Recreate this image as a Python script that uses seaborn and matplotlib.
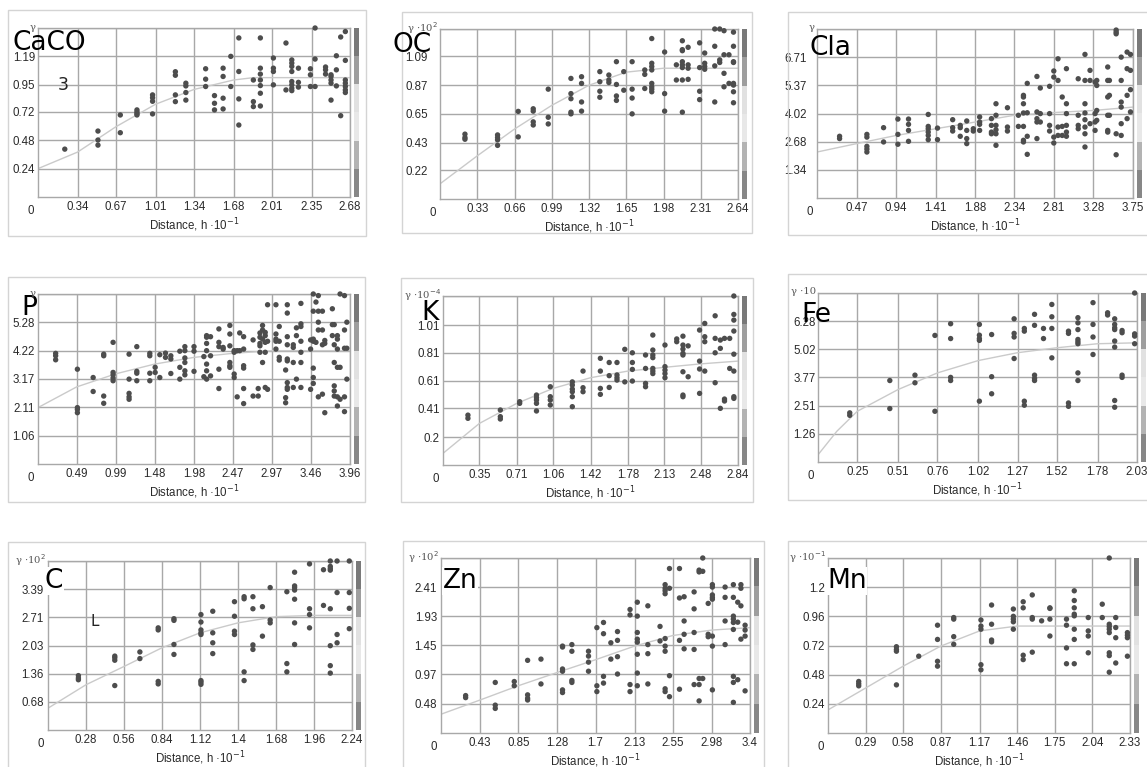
import numpy as np
import pandas as pd
import matplotlib
matplotlib.use("Agg")
import matplotlib.pyplot as plt
from matplotlib.patches import Rectangle
import seaborn as sns

sns.set_theme(style="white")
plt.rcParams['font.family'] = ['Liberation Sans', 'DejaVu Sans']

W, H = 1147, 767

# ---------------- data ----------------
names = ["CaCO", "OC", "Cla", "P", "K", "Fe", "C", "Zn", "Mn"]
ylabels = ["γ", "γ ·10$^{2}$", "γ", "γ", "γ ·10$^{-4}$", "γ ·10", "γ ·10$^{2}$", "γ ·10$^{2}$", "γ ·10$^{-1}$"]

caco_xt = ["0.34", "0.67", "1.01", "1.34", "1.68", "2.01", "2.35", "2.68"]
oc_xt = ["0.33", "0.66", "0.99", "1.32", "1.65", "1.98", "2.31", "2.64"]
cla_xt = ["0.47", "0.94", "1.41", "1.88", "2.34", "2.81", "3.28", "3.75"]
p_xt = ["0.49", "0.99", "1.48", "1.98", "2.47", "2.97", "3.46", "3.96"]
k_xt = ["0.35", "0.71", "1.06", "1.42", "1.78", "2.13", "2.48", "2.84"]
fe_xt = ["0.25", "0.51", "0.76", "1.02", "1.27", "1.52", "1.78", "2.03"]
c_xt = ["0.28", "0.56", "0.84", "1.12", "1.4", "1.68", "1.96", "2.24"]
zn_xt = ["0.43", "0.85", "1.28", "1.7", "2.13", "2.55", "2.98", "3.4"]
mn_xt = ["0.29", "0.58", "0.87", "1.17", "1.46", "1.75", "2.04", "2.33"]

caco_yt = ["0.24", "0.48", "0.72", "0.95", "1.19"]
oc_yt = ["0.22", "0.43", "0.65", "0.87", "1.09"]
cla_yt = ["1.34", "2.68", "4.02", "5.37", "6.71"]
p_yt = ["1.06", "2.11", "3.17", "4.22", "5.28"]
k_yt = ["0.2", "0.41", "0.61", "0.81", "1.01"]
fe_yt = ["1.26", "2.51", "3.77", "5.02", "6.28"]
c_yt = ["0.68", "1.36", "2.03", "2.71", "3.39"]
zn_yt = ["0.48", "0.97", "1.45", "1.93", "2.41"]
mn_yt = ["0.24", "0.48", "0.72", "0.96", "1.2"]

y_tops = [1.43, 1.30, 8.05, 6.33, 1.22, 7.53, 4.07, 2.89, 1.44]

caco_cols = [0.23, 0.515, 0.707, 0.85, 0.984, 1.18, 1.27, 1.44, 1.516, 1.59, 1.656, 1.725, 1.85, 1.91, 2.022, 2.13, 2.18, 2.237, 2.34, 2.38, 2.47, 2.517, 2.563, 2.6, 2.64]
caco_vals = [[0.405], [0.558, 0.482, 0.439], [0.694, 0.544], [0.737, 0.72, 0.705, 0.694], [0.864, 0.84, 0.81, 0.703], [1.06, 1.03, 0.864, 0.807], [0.963, 0.94, 0.884, 0.82], [1.085, 0.997, 0.935], [0.858, 0.793, 0.737], [1.09, 1.02, 0.836, 0.745], [1.19, 0.935], [1.346, 1.062, 0.83, 0.609], [0.99, 0.807, 0.765], [1.346, 1.09, 1.04, 0.99, 0.943, 0.878, 0.77], [1.176, 1.09, 1.062, 0.949], [1.303, 0.906], [1.16, 1.133, 1.105, 1.062, 0.977, 0.949, 0.92, 0.9], [1.09, 0.97, 0.93], [1.085, 1.034, 0.935], [1.43, 1.167, 0.935], [1.1, 1.076, 1.04], [1.034, 1.02, 0.99, 0.963, 0.82], [1.195, 1.076, 0.94], [1.354, 0.688], [1.4, 1.156, 0.99, 0.963, 0.935, 0.906, 0.884]]
caco_curve_x = [0, 0.34, 0.67, 1.01, 1.34, 1.68, 1.85, 2.68]
caco_curve_y = [0.24, 0.38, 0.595, 0.785, 0.91, 0.99, 1.01, 1.01]

oc_cols = [0.221, 0.51, 0.693, 0.826, 0.959, 1.16, 1.254, 1.416, 1.496, 1.563, 1.628, 1.702, 1.814, 1.876, 1.99, 2.094, 2.147, 2.198, 2.3, 2.345, 2.434, 2.478, 2.516, 2.56, 2.6]
oc_vals = [[0.496, 0.47, 0.457], [0.49, 0.47, 0.452, 0.41], [0.67, 0.475], [0.69, 0.672, 0.59, 0.566], [0.84, 0.625, 0.574], [0.922, 0.806, 0.767, 0.664, 0.651], [0.935, 0.884, 0.742, 0.672], [0.974, 0.897, 0.824, 0.778], [0.948, 0.91, 0.891], [1.05, 0.876, 0.788, 0.754], [0.974, 0.832], [1.05, 0.84, 0.772, 0.651], [0.987, 0.953, 0.845], [1.227, 1.038, 1.013, 0.987, 0.884, 0.858, 0.84, 0.82], [1.124, 0.806, 0.672], [1.026, 0.91], [1.21, 1.142, 1.134, 1.05, 1.026, 1.005, 0.91, 0.664], [1.16, 1.026, 1.0, 0.915], [1.194, 1.005, 0.824, 0.76], [1.116, 1.038, 1.013, 0.992], [1.30, 1.168, 1.018, 0.742], [1.30, 1.064, 1.044], [1.287, 1.103, 0.961, 0.858], [1.103, 0.884], [1.276, 1.168, 1.05, 1.044, 0.884, 0.871, 0.82, 0.736]]
oc_curve_x = [0, 0.33, 0.66, 0.99, 1.32, 1.65, 1.98, 2.64]
oc_curve_y = [0.116, 0.33, 0.535, 0.716, 0.87, 0.97, 1.0, 1.0]

cla_cols = [0.268, 0.592, 0.79, 0.96, 1.086, 1.32, 1.43, 1.61, 1.70, 1.777, 1.855, 1.93, 2.07, 2.124, 2.26, 2.39, 2.45, 2.495, 2.61, 2.65, 2.76, 2.81, 2.86, 2.91, 2.96, 3.10, 3.18, 3.24, 3.30, 3.32, 3.45, 3.47, 3.55, 3.61, 3.68, 3.72]
cla_vals = [[2.94, 2.83], [3.03, 2.9, 2.46, 2.33, 2.19], [3.35, 2.67], [3.76, 3.03, 2.56], [3.76, 3.51, 3.22, 2.70], [3.98, 3.41, 3.3, 3.14, 2.98, 2.78], [3.33, 2.78], [3.73, 3.35, 3.19], [3.46, 3.35, 2.94], [3.67, 3.22, 2.83, 2.59], [3.3, 3.19], [3.86, 3.62, 3.51, 3.22], [3.78, 3.46, 3.14, 3.06], [4.49, 3.94, 3.46, 3.25, 3.06, 2.51], [4.3, 3.38, 3.19], [3.94, 3.41], [4.89, 4.81, 4.49, 4.05, 3.41, 2.75, 2.67], [5.46, 4.06, 2.94, 2.08], [5.79, 4.1, 3.78, 3.62, 2.83], [5.24, 4.02, 3.62], [5.32, 4.02, 3.46, 3.19], [6.05, 5.76, 2.9, 2.62], [6.63, 5.6, 3.38, 2.98], [4.81, 3.41, 2.98], [6.16, 4.49, 4.02, 3.46, 3.14, 2.94], [5.68, 3.94, 3.46, 3.3], [6.84, 5.6, 4.49, 4.05, 3.73, 3.38, 3.06, 2.43], [6.08, 5.6, 3.54], [5.52, 4.02, 3.62, 3.22], [5.6, 5.36, 4.17, 3.7], [6.24, 5.6, 4.81, 3.94, 3.22, 3.14], [5.6, 4.89, 3.94], [8.0, 7.9, 7.82, 3.06, 2.06], [6.71, 5.6, 4.57, 4.33, 3.54, 2.98], [6.95, 6.16, 4.89, 3.78], [6.84, 6.08, 5.16, 4.1]]
cla_curve_x = [0, 0.47, 0.94, 1.41, 1.88, 2.34, 2.81, 3.28, 3.75]
cla_curve_y = [2.19, 2.59, 2.98, 3.3, 3.62, 3.94, 4.07, 4.17, 4.33]

p_cols = [0.224, 0.5, 0.7, 0.834, 0.953, 1.156, 1.254, 1.419, 1.487, 1.546, 1.618, 1.686, 1.8, 1.864, 1.98, 2.105, 2.14, 2.19, 2.296, 2.35, 2.435, 2.49, 2.528, 2.56, 2.61, 2.73, 2.795, 2.817, 2.85, 2.884, 2.914, 3.02, 3.062, 3.143, 3.164, 3.24, 3.28, 3.337, 3.46, 3.494, 3.528, 3.558, 3.61, 3.64, 3.736, 3.76, 3.8, 3.834, 3.89, 3.92]
p_vals = [[4.12, 4.03, 3.88], [3.53, 2.1, 2.03, 1.91], [3.22, 2.7], [4.09, 4.03, 2.53, 2.26], [4.53, 3.41, 3.32, 3.2, 3.1], [4.09, 3.16, 2.63, 2.5, 2.41], [4.37, 3.45, 3.38, 3.1], [4.12, 4.03, 3.38, 3.1], [3.6, 3.41], [4.07, 3.22], [4.13, 3.97], [4.03, 3.91, 3.37], [4.2, 3.6, 3.16], [4.37, 4.22, 3.95, 3.78, 3.47, 3.32], [4.37, 4.2, 3.45], [4.0, 3.25], [4.78, 4.72, 4.49, 4.22, 3.72, 3.47, 3.16], [4.74, 4.03, 3.28], [5.03, 4.53, 4.37, 3.53, 2.81], [4.34, 4.28], [5.16, 4.84, 4.4, 3.78, 3.66, 3.6], [4.22, 4.16, 3.35, 3.22], [4.22, 2.5], [4.88, 4.22], [4.74, 4.28, 3.66, 3.57, 2.81, 2.25], [4.62, 2.53], [2.81, 2.53], [4.88, 4.72, 4.49, 4.4, 4.16], [5.16, 4.99, 4.65, 3.78], [4.9, 4.78, 4.53, 4.16, 2.85], [5.93, 4.57, 2.78], [5.93, 4.84, 4.65, 4.57, 4.28], [5.12, 4.57, 3.97, 3.87], [3.5, 2.47, 2.28], [5.93, 5.62, 4.74, 4.44, 3.91, 3.84, 3.03, 2.85, 2.78], [4.44, 4.34, 3.78, 2.85], [5.07, 4.78, 3.16], [5.98, 5.22, 5.12, 4.57, 4.16, 3.78, 2.85], [4.62, 4.28, 2.78], [6.33, 5.69, 4.65, 4.57, 3.57, 3.22, 3.0], [6.03, 4.53], [6.27, 5.69, 5.28, 4.99, 2.5], [5.69, 4.99, 4.44, 2.6], [4.6, 4.49, 1.91], [5.78, 5.19, 4.78], [5.19, 4.44, 3.78, 2.91, 2.72, 2.53], [4.78, 4.65, 4.28, 3.6, 2.5, 2.16], [6.33, 3.6, 2.41], [6.27, 4.99, 4.31, 2.5, 1.95], [5.28, 4.31, 3.16]]
p_curve_x = [0, 0.49, 0.99, 1.48, 1.98, 2.47, 2.97, 3.96]
p_curve_y = [2.1, 2.87, 3.36, 3.72, 3.97, 4.12, 4.22, 4.22]

k_cols = [0.24, 0.552, 0.738, 0.9, 1.033, 1.245, 1.348, 1.515, 1.6, 1.675, 1.75, 1.823, 1.95, 2.02, 2.137, 2.25, 2.31, 2.36, 2.47, 2.52, 2.62, 2.67, 2.71, 2.76, 2.8]
k_vals = [[0.36, 0.337], [0.397, 0.349, 0.332], [0.457, 0.445], [0.505, 0.486, 0.469, 0.445, 0.39], [0.565, 0.493, 0.469, 0.433], [0.6, 0.577, 0.548, 0.529, 0.493, 0.421], [0.678, 0.558, 0.529], [0.77, 0.678, 0.553, 0.51], [0.74, 0.645, 0.56], [0.74, 0.65, 0.63, 0.613], [0.835, 0.6], [0.81, 0.74, 0.69, 0.606], [0.794, 0.697, 0.589, 0.565], [0.938, 0.83, 0.794, 0.775, 0.697, 0.678, 0.66], [0.866, 0.71, 0.685, 0.66, 0.63], [0.91, 0.89], [0.93, 0.866, 0.837, 0.806, 0.794, 0.673, 0.505, 0.493], [0.86, 0.637], [0.974, 0.75, 0.693, 0.517], [1.022, 0.926, 0.89, 0.678], [1.077, 0.914, 0.81, 0.594], [0.902, 0.842, 0.409], [0.914, 0.476, 0.462], [0.914, 0.697], [1.22, 1.087, 1.046, 0.967, 0.8, 0.678, 0.493, 0.481]]
k_curve_x = [0, 0.35, 0.71, 1.06, 1.42, 1.78, 2.13, 2.48, 2.84]
k_curve_y = [0.084, 0.3, 0.445, 0.553, 0.63, 0.678, 0.705, 0.73, 0.75]

fe_cols = [0.202, 0.457, 0.617, 0.744, 0.844, 1.027, 1.105, 1.248, 1.313, 1.378, 1.435, 1.488, 1.594, 1.654, 1.75, 1.843, 1.888, 1.935, 2.015]
fe_vals = [[2.19, 2.08], [3.63, 2.38], [3.87, 3.53], [5.64, 2.26], [6.16, 5.5, 3.77, 3.63], [6.13, 5.65, 5.5, 5.42, 2.71], [5.68, 3.8, 3.04], [6.38, 5.73, 5.57, 4.61], [5.95, 5.83, 2.71, 2.53], [6.58, 6.09, 3.87, 3.72, 3.63], [5.95, 5.5], [7.02, 6.47, 5.95, 4.64], [5.83, 5.73, 2.63, 2.48], [6.43, 6.2, 5.9, 5.46, 5.36, 5.27, 3.97, 3.63], [7.1, 6.13, 5.57, 4.79], [6.65, 6.55], [6.38, 6.13, 5.98, 5.9, 5.39, 5.12, 2.74, 2.44], [5.86, 5.76, 3.87, 3.77], [7.53, 5.71, 5.61, 5.27]]
fe_curve_x = [0, 0.12, 0.25, 0.51, 0.76, 1.02, 1.27, 1.52, 1.78, 2.03]
fe_curve_y = [0.32, 1.37, 2.26, 3.23, 3.97, 4.52, 4.87, 5.09, 5.27, 5.31]

c_cols = [0.224, 0.492, 0.677, 0.812, 0.928, 1.127, 1.214, 1.374, 1.445, 1.51, 1.58, 1.637, 1.76, 1.817, 1.927, 2.03, 2.08, 2.13, 2.22]
c_vals = [[1.31, 1.25, 1.21], [1.78, 1.74, 1.68, 1.07], [1.88, 1.72], [2.46, 2.41, 1.17, 1.11], [2.68, 2.64, 2.06, 1.82], [2.78, 2.6, 2.41, 2.34, 2.3, 1.19, 1.15, 1.1], [2.86, 2.34, 2.1, 1.84], [3.09, 2.74, 2.38, 2.3], [3.21, 3.16, 1.4, 1.19], [3.21, 2.92, 2.05, 1.94], [2.97, 2.26], [3.43, 2.65, 2.58], [3.33, 1.6, 1.4], [3.8, 3.47, 3.43, 3.37, 3.15, 2.58, 2.06], [4.0, 2.92, 2.78, 2.46], [3.86, 3.0], [4.07, 3.94, 3.89, 3.85, 2.92, 2.03, 1.55, 1.37], [4.07, 3.31, 2.3, 2.1], [4.07, 3.31, 2.93, 2.44]]
c_curve_x = [0, 0.28, 0.56, 0.84, 1.12, 1.4, 1.68, 1.96, 2.24]
c_curve_y = [0.525, 1.09, 1.53, 1.98, 2.34, 2.58, 2.73, 2.76, 2.76]

zn_cols = [0.271, 0.597, 0.806, 0.953, 1.1, 1.337, 1.44, 1.623, 1.715, 1.788, 1.869, 1.942, 2.08, 2.16, 2.276, 2.41, 2.466, 2.514, 2.624, 2.675, 2.785, 2.84, 2.88, 2.94, 2.986, 3.126, 3.217, 3.265, 3.3, 3.346]
zn_vals = [[0.618, 0.584], [0.835, 0.46, 0.406], [0.85, 0.78], [1.2, 0.63, 0.573, 0.545], [1.22, 0.81], [1.435, 1.42, 1.057, 1.02, 0.712, 0.668], [1.46, 1.35, 0.868, 0.835], [1.35, 1.27, 1.17, 1.02], [1.74, 0.78, 0.684], [1.825, 1.64, 0.935, 0.824], [1.49, 1.22], [1.675, 1.53, 1.26, 0.974], [2.04, 1.95, 0.8, 0.684], [2.16, 1.93, 1.66, 1.55, 1.5, 1.3, 0.99, 0.78], [2.1, 1.46, 1.31, 0.81], [1.76, 1.52], [2.45, 2.39, 2.35, 2.3, 1.56, 1.435, 1.35, 0.73, 0.684], [2.716, 2.39, 0.946, 0.6], [2.716, 2.23, 1.53, 0.723], [2.25, 1.85, 1.63, 1.39], [2.33, 2.05, 1.66, 1.38, 0.8], [2.69, 2.66, 0.9, 0.8, 0.53], [2.89, 2.67, 0.9], [2.14, 1.63, 1.59], [2.45, 2.41, 2.28, 2.24, 2.21, 1.6, 1.435, 0.712], [2.41, 2.24, 1.85, 1.46], [2.45, 2.24, 1.93, 1.88, 1.825, 1.71, 0.935, 0.835, 0.506], [2.16, 1.83, 0.88], [2.45, 2.39, 2.1, 1.55], [1.78, 1.7, 1.6, 0.696]]
zn_curve_x = [0, 0.43, 0.85, 1.28, 1.7, 2.13, 2.55, 2.98, 3.4]
zn_curve_y = [0.31, 0.545, 0.78, 1.0, 1.21, 1.435, 1.61, 1.70, 1.74]

mn_cols = [0.237, 0.528, 0.7, 0.845, 0.97, 1.18, 1.262, 1.43, 1.506, 1.576, 1.648, 1.712, 1.84, 1.9, 2.008, 2.116, 2.17, 2.22, 2.31]
mn_vals = [[0.424, 0.405, 0.388], [0.71, 0.687, 0.673, 0.396], [0.632], [0.887, 0.77, 0.59, 0.55], [0.95, 0.937, 0.793, 0.73], [0.93, 0.88, 0.854, 0.562, 0.52], [1.053, 0.895, 0.765, 0.75], [1.02, 0.96, 0.937, 0.915, 0.854], [1.08, 1.03, 0.64, 0.604], [1.136, 0.95, 0.937, 0.665], [0.923], [1.03, 1.025, 0.937, 0.798], [0.937, 0.887, 0.7, 0.57], [1.17, 1.09, 1.03, 0.978, 0.964, 0.854, 0.77, 0.57], [0.95, 0.84, 0.798, 0.66], [1.06, 0.95], [1.44, 0.895, 0.876, 0.854, 0.826, 0.66, 0.637, 0.5], [0.95, 0.868, 0.784, 0.576], [0.826, 0.804, 0.784, 0.632]]
mn_curve_x = [0, 0.29, 0.58, 0.87, 1.17, 1.46, 1.75, 2.33]
mn_curve_y = [0.19, 0.37, 0.55, 0.715, 0.84, 0.88, 0.88, 0.88]

# ---------------- layout (pixel boxes) ----------------
axes_px = [(38, 28, 350, 197), (440, 29, 738, 199), (817, 29, 1133, 198),
           (38, 294, 350, 464), (443, 296, 738, 465), (818, 293, 1137, 462),
           (48, 561, 352, 730), (441, 558, 750, 733), (828, 558, 1130, 733)]
frame_px = [(8, 10, 366, 236), (402, 12, 752, 233), (788, 12, 1165, 235),
            (8, 277, 365, 502), (401, 278, 753, 502), (788, 274, 1165, 500),
            (8, 542, 365, 790), (403, 541, 764, 790), (788, 541, 1165, 790)]
# left edge and baseline of each panel name
title_px = [(12, 50), (392, 52), (809, 55), (21, 315), (421, 320), (801, 322), (45, 588), (443, 588), (827, 588)]
title_box = [False, False, False, False, False, False, True, True, True]
ytick_pad_px = [3, 12, 10, 3, 3, 2, 4, 4, 3]

cols_all = [caco_cols, oc_cols, cla_cols, p_cols, k_cols, fe_cols, c_cols, zn_cols, mn_cols]
vals_all = [caco_vals, oc_vals, cla_vals, p_vals, k_vals, fe_vals, c_vals, zn_vals, mn_vals]
cx_all = [caco_curve_x, oc_curve_x, cla_curve_x, p_curve_x, k_curve_x, fe_curve_x, c_curve_x, zn_curve_x, mn_curve_x]
cy_all = [caco_curve_y, oc_curve_y, cla_curve_y, p_curve_y, k_curve_y, fe_curve_y, c_curve_y, zn_curve_y, mn_curve_y]
xt_all = [caco_xt, oc_xt, cla_xt, p_xt, k_xt, fe_xt, c_xt, zn_xt, mn_xt]
yt_all = [caco_yt, oc_yt, cla_yt, p_yt, k_yt, fe_yt, c_yt, zn_yt, mn_yt]


def fbox(l, t, r, b):
    return [l / W, 1 - b / H, (r - l) / W, (b - t) / H]


fig = plt.figure(figsize=(W / 100, H / 100), dpi=100)
fig.patch.set_facecolor("white")

bar_vals = np.array([[0.48], [0.62], [0.88], [0.91], [0.70], [0.53]])
grid_c = "#a8a8a8"
txt_c = "#2a2a2a"
fs = 8.3

for i in range(9):
    l, t, r, b = frame_px[i]
    fig.patches.append(Rectangle((l / W, 1 - b / H), (r - l) / W, (b - t) / H,
                                 transform=fig.transFigure, fill=False,
                                 edgecolor="#d4d4d4", lw=1.0, zorder=0))
    ax = fig.add_axes(fbox(*axes_px[i]))
    xs, ys = [], []
    for cx, vv in zip(cols_all[i], vals_all[i]):
        for v in vv:
            xs.append(cx)
            ys.append(v)
    df = pd.DataFrame({"h": xs, "gamma": ys})
    cdf = pd.DataFrame({"h": cx_all[i], "gamma": cy_all[i]})
    xt = [float(s) for s in xt_all[i]]
    yt = [float(s) for s in yt_all[i]]
    xmax = xt[-1]
    ymax = y_tops[i]
    sns.lineplot(data=cdf, x="h", y="gamma", ax=ax, color="#cacaca", lw=1.0,
                 zorder=2, estimator=None, sort=False)
    sns.scatterplot(data=df, x="h", y="gamma", ax=ax, color="#4d4d4d", s=15,
                    edgecolor="none", zorder=3, clip_on=False)
    ax.set_xlim(0, xmax)
    ax.set_ylim(0, ymax)
    ax.set_xticks(xt)
    ax.set_xticklabels(xt_all[i], fontsize=fs, color=txt_c)
    ax.set_yticks(yt)
    ax.set_yticklabels(yt_all[i], fontsize=fs, color=txt_c)
    ax.tick_params(axis="x", length=0, pad=3)
    ax.tick_params(axis="y", length=0, pad=ytick_pad_px[i] * 0.72)
    ax.grid(True, color=grid_c, lw=1.0)
    ax.axhline(ymax, color=grid_c, lw=1.0)
    for sp in ax.spines.values():
        sp.set_color(grid_c)
        sp.set_linewidth(1.0)
    ax.set_xlabel("Distance, h ·10$^{-1}$", fontsize=fs, color=txt_c, labelpad=2)
    ax.set_ylabel("")
    ax.annotate("0", xy=(0, 0), xycoords="data", xytext=(-5, -10),
                textcoords="offset points", ha="center", va="center",
                fontsize=fs, color=txt_c)
    # colour strip beside the axes
    al, at, ar, ab = axes_px[i]
    cax = fig.add_axes(fbox(ar + 4, at, ar + 9, ab))
    cax.imshow(bar_vals, cmap="gray", vmin=0, vmax=1, aspect="auto",
               interpolation="nearest")
    cax.set_axis_off()
    # panel name
    tx, ty = title_px[i]
    kw = {}
    if title_box[i]:
        kw["bbox"] = dict(facecolor="white", edgecolor="none", pad=0.3)
    fig.text(tx / W, 1 - ty / H, names[i], fontsize=19, color="black",
             ha="left", va="baseline", family=["DejaVu Sans"], zorder=4, **kw)
    # small gamma label at the top-left corner
    fig.text((al - 2) / W, 1 - (at - 1) / H, ylabels[i], fontsize=7.2, color="#555555",
             ha="right", va="center", family=["DejaVu Serif"], zorder=6)

fig.text(63 / W, 1 - 85 / H, "3", fontsize=12.5, color="#222222", ha="center", va="center",
         family=["DejaVu Sans"])
fig.text(95 / W, 1 - 622 / H, "L", fontsize=11, color="#222222", ha="center", va="center",
         family=["DejaVu Sans"])

fig.savefig("out.png", dpi=100, facecolor="white")
